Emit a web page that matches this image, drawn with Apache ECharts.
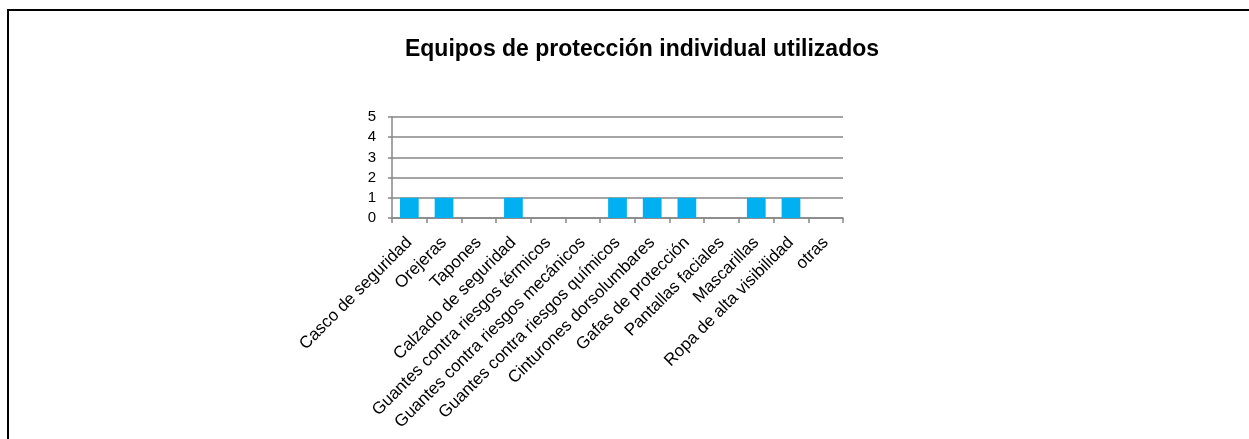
<!DOCTYPE html>
<html>
<head>
<meta charset="utf-8">
<script src="https://cdn.jsdelivr.net/npm/echarts@6/dist/echarts.min.js"></script>
<style>
html,body{margin:0;padding:0;background:#fff;}
#chart{width:1249px;height:439px;}
</style>
</head>
<body>
<div id="chart"></div>
<script>
const chartTitle = 'Equipos de protección individual utilizados';
const categories = ['Casco de seguridad','Orejeras','Tapones','Calzado de seguridad','Guantes contra riesgos térmicos','Guantes contra riesgos mecánicos','Guantes contra riesgos químicos','Cinturones dorsolumbares','Gafas de protección','Pantallas faciales','Mascarillas','Ropa de alta visibilidad','otras'];
const values = [1,1,0,1,0,0,1,1,1,0,1,1,0];
const yTicks = [0,1,2,3,4,5];

const chart = echarts.init(document.getElementById('chart'), null, {renderer:'canvas'});
const font = "'Liberation Sans', Arial, sans-serif";
chart.setOption({
  animation:false,
  backgroundColor:'#ffffff',
  graphic:[{type:'rect', shape:{x:8,y:10,width:1260,height:450}, style:{fill:'none', stroke:'#000', lineWidth:2}, silent:true}],
  title:{text:chartTitle, left:637, top:33, textAlign:'center',
    textStyle:{fontFamily:font, fontWeight:'bold', fontSize:23, color:'#000'}},
  grid:{left:392, right:406, top:117, bottom:221, containLabel:false},
  xAxis:{type:'category', data:categories,
    axisLine:{lineStyle:{color:'#868686', width:1.5}},
    axisTick:{show:true, length:5, alignWithLabel:false, lineStyle:{color:'#868686', width:1.5}},
    axisLabel:{rotate:45, interval:0, margin:22, fontFamily:font, fontSize:17, color:'#000'}},
  yAxis:{type:'value', min:yTicks[0], max:yTicks[yTicks.length-1], interval:1,
    axisLine:{show:true, lineStyle:{color:'#868686', width:1.5}},
    axisTick:{show:true, length:4, lineStyle:{color:'#868686', width:1.5}},
    splitLine:{lineStyle:{color:'#868686', width:1.5}},
    axisLabel:{margin:16, fontFamily:font, fontSize:15, color:'#000'}},
  series:[{type:'bar', data:values, barCategoryGap:'46%', itemStyle:{color:'#00B0F0'}}]
});
</script>
</body>
</html>
